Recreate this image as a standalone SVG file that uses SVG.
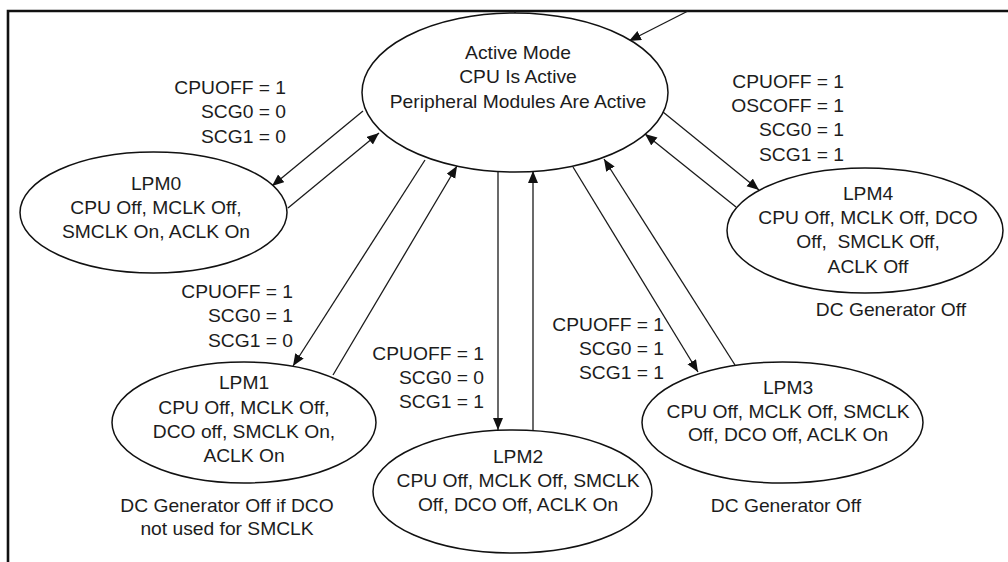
<svg xmlns="http://www.w3.org/2000/svg" width="1008" height="562" viewBox="0 0 1008 562">
  <style>
    .frame { stroke: #111; stroke-width: 2.6; fill: none; }
    .state { fill: #fff; stroke: #111; stroke-width: 1.5; }
    .edge { stroke: #1a1a1a; stroke-width: 1.3; fill: none; }
    text { font-family: "Liberation Sans", Arial, sans-serif; font-size: 17.5px; fill: #1c1c1c; }
    .c text { text-anchor: middle; }
    .r text { text-anchor: end; }
    .pre { white-space: pre; }
  </style>
  <defs>
    <marker id="arrow" markerUnits="userSpaceOnUse" markerWidth="13" markerHeight="11" refX="12" refY="5" orient="auto">
      <path d="M0,0 L12,5 L0,10 z" fill="#111"/>
    </marker>
  </defs>

  <rect width="1008" height="562" fill="#fff"/>

  <!-- page frame -->
  <path class="frame" d="M8,562 V11 H1008"/>

  <!-- transitions -->
  <g id="connectors">
    <line class="edge" x1="515" y1="11" x2="515" y2="14"/>
    <line class="edge" x1="688" y1="11" x2="629" y2="41" marker-end="url(#arrow)"/>
    <!-- Active <-> LPM0 -->
    <line class="edge" x1="363" y1="111" x2="272" y2="186" marker-end="url(#arrow)"/>
    <line class="edge" x1="288" y1="208" x2="379" y2="133" marker-end="url(#arrow)"/>
    <!-- Active <-> LPM1 -->
    <line class="edge" x1="425" y1="160" x2="293" y2="366" marker-end="url(#arrow)"/>
    <line class="edge" x1="333" y1="375" x2="457" y2="166" marker-end="url(#arrow)"/>
    <!-- Active <-> LPM2 -->
    <line class="edge" x1="498" y1="171" x2="498" y2="430" marker-end="url(#arrow)"/>
    <line class="edge" x1="533" y1="431" x2="533" y2="171" marker-end="url(#arrow)"/>
    <!-- Active <-> LPM3 -->
    <line class="edge" x1="573" y1="167" x2="698" y2="372" marker-end="url(#arrow)"/>
    <line class="edge" x1="735" y1="365" x2="604" y2="159" marker-end="url(#arrow)"/>
    <!-- Active <-> LPM4 -->
    <line class="edge" x1="663" y1="112" x2="759" y2="190" marker-end="url(#arrow)"/>
    <line class="edge" x1="736" y1="207" x2="645" y2="134" marker-end="url(#arrow)"/>
  </g>

  <!-- transition conditions -->
  <g id="cond-lpm0" class="r" transform="translate(286 0) scale(1.1 1)">
    <text y="94">CPUOFF = 1</text>
    <text y="118">SCG0 = 0</text>
    <text y="143">SCG1 = 0</text>
  </g>
  <g id="cond-lpm1" class="r" transform="translate(293 0) scale(1.1 1)">
    <text y="298">CPUOFF = 1</text>
    <text y="322">SCG0 = 1</text>
    <text y="347">SCG1 = 0</text>
  </g>
  <g id="cond-lpm2" class="r" transform="translate(484 0) scale(1.1 1)">
    <text y="360">CPUOFF = 1</text>
    <text y="384">SCG0 = 0</text>
    <text y="408">SCG1 = 1</text>
  </g>
  <g id="cond-lpm3" class="r" transform="translate(664 0) scale(1.1 1)">
    <text y="331">CPUOFF = 1</text>
    <text y="355">SCG0 = 1</text>
    <text y="379">SCG1 = 1</text>
  </g>
  <g id="cond-lpm4" class="r" transform="translate(844 0) scale(1.1 1)">
    <text y="88">CPUOFF = 1</text>
    <text y="112">OSCOFF = 1</text>
    <text y="136">SCG0 = 1</text>
    <text y="161">SCG1 = 1</text>
  </g>

  <!-- operating modes -->
  <g id="active">
    <ellipse class="state" cx="515" cy="92.5" rx="153" ry="79.5"/>
    <g class="c" transform="translate(518 0) scale(1.1 1)">
      <text y="59">Active Mode</text>
      <text y="83">CPU Is Active</text>
      <text y="108">Peripheral Modules Are Active</text>
    </g>
  </g>

  <g id="lpm0">
    <ellipse class="state" cx="153.5" cy="212.5" rx="133.5" ry="60.5"/>
    <g class="c" transform="translate(156 0) scale(1.1 1)">
      <text y="190">LPM0</text>
      <text y="214">CPU Off, MCLK Off,</text>
      <text y="238">SMCLK On, ACLK On</text>
    </g>
  </g>

  <g id="lpm1">
    <ellipse class="state" cx="244" cy="422.5" rx="132" ry="60.5"/>
    <g class="c" transform="translate(244 0) scale(1.1 1)">
      <text y="389">LPM1</text>
      <text y="414">CPU Off, MCLK Off,</text>
      <text y="438">DCO off, SMCLK On,</text>
      <text y="462">ACLK On</text>
    </g>
    <g class="c" transform="translate(227 0) scale(1.1 1)">
      <text y="512">DC Generator Off if DCO</text>
      <text y="535">not used for SMCLK</text>
    </g>
  </g>

  <g id="lpm2">
    <ellipse class="state" cx="512.5" cy="491.5" rx="139.5" ry="61.5"/>
    <g class="c" transform="translate(518 0) scale(1.1 1)">
      <text y="463">LPM2</text>
      <text y="487">CPU Off, MCLK Off, SMCLK</text>
      <text y="511">Off, DCO Off, ACLK On</text>
    </g>
  </g>

  <g id="lpm3">
    <ellipse class="state" cx="782.5" cy="422.5" rx="140.5" ry="60.5"/>
    <g class="c" transform="translate(788 0) scale(1.1 1)">
      <text y="394">LPM3</text>
      <text y="418">CPU Off, MCLK Off, SMCLK</text>
      <text y="441">Off, DCO Off, ACLK On</text>
    </g>
    <g class="c" transform="translate(786 0) scale(1.1 1)">
      <text y="512">DC Generator Off</text>
    </g>
  </g>

  <g id="lpm4">
    <ellipse class="state" cx="865" cy="230.5" rx="138" ry="62.5"/>
    <g class="c" transform="translate(868 0) scale(1.1 1)">
      <text y="200">LPM4</text>
      <text y="224">CPU Off, MCLK Off, DCO</text>
      <text y="248" class="pre">Off,  SMCLK Off,</text>
      <text y="273">ACLK Off</text>
    </g>
    <g class="c" transform="translate(891 0) scale(1.1 1)">
      <text y="316">DC Generator Off</text>
    </g>
  </g>
</svg>
